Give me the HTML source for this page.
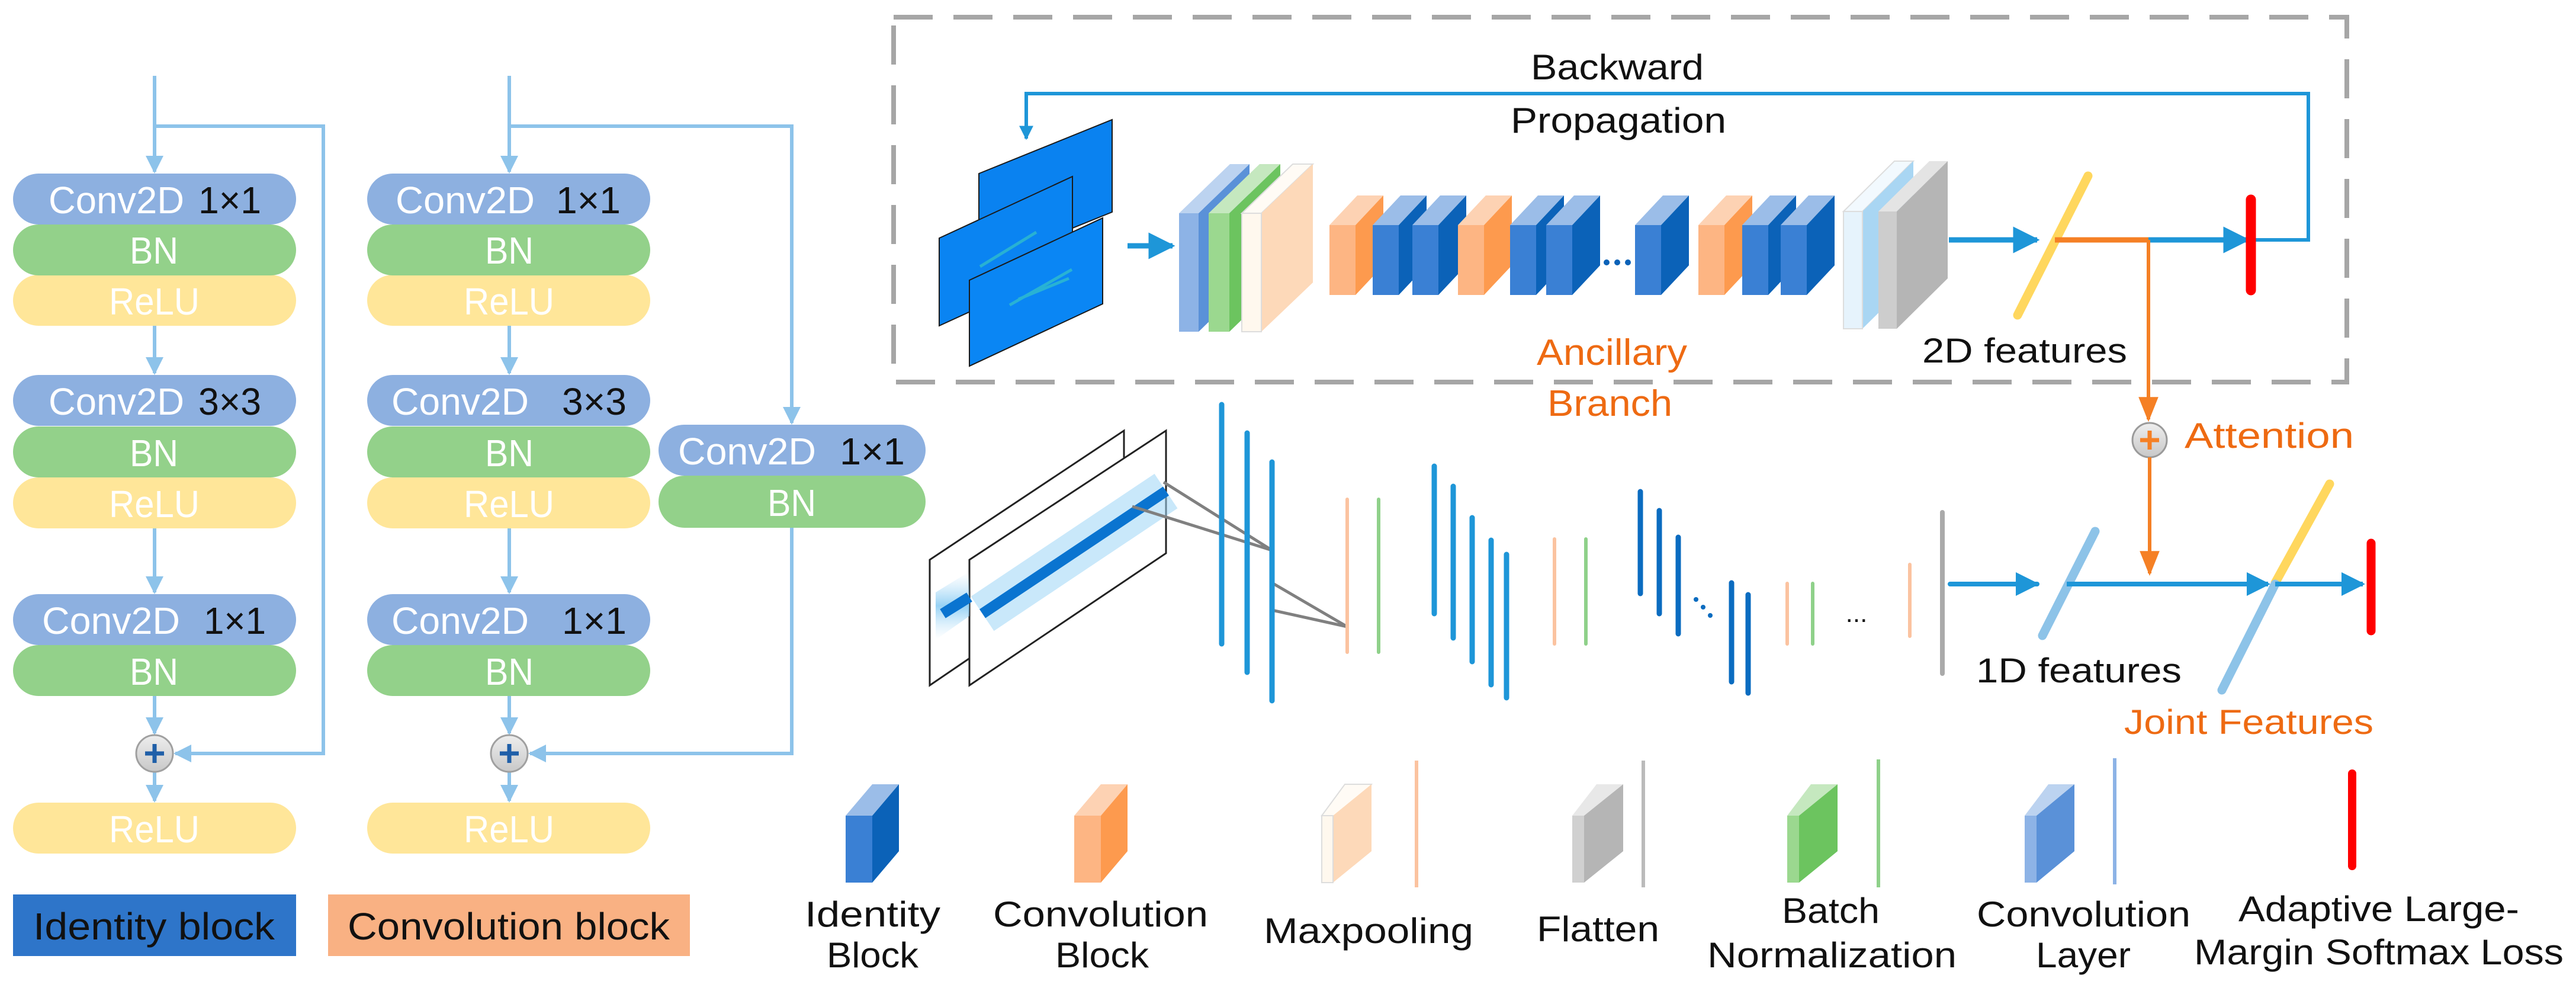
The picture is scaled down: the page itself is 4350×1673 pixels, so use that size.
<!DOCTYPE html>
<html><head><meta charset="utf-8"><style>
html,body{margin:0;padding:0;background:#fff}
svg{display:block}
text{font-family:"Liberation Sans",sans-serif}
</style></head><body>
<svg width="4350" height="1673" viewBox="0 0 4350 1673" xmlns="http://www.w3.org/2000/svg">
<defs>
<marker id="ab" viewBox="0 0 10 10" refX="9" refY="5" markerWidth="5" markerHeight="5" orient="auto"><path d="M0,0 L10,5 L0,10 z" fill="#8DC3EA"/></marker>
<marker id="bb" viewBox="0 0 10 10" refX="9" refY="5" markerWidth="5" markerHeight="5" orient="auto"><path d="M0,0 L10,5 L0,10 z" fill="#1E96D8"/></marker>
<marker id="bs" viewBox="0 0 10 10" refX="9" refY="5" markerWidth="4" markerHeight="5" orient="auto"><path d="M0,0 L10,5 L0,10 z" fill="#1E96D8"/></marker>
<marker id="ob" viewBox="0 0 10 10" refX="9" refY="5" markerWidth="7" markerHeight="7" orient="auto"><path d="M0,1 L10,5 L0,9 z" fill="#F58025"/></marker>
<linearGradient id="cg" x1="0" y1="0" x2="0" y2="1"><stop offset="0" stop-color="#EEEEEE"/><stop offset="1" stop-color="#C8C8C8"/></linearGradient>
<linearGradient id="fz" x1="0" y1="0" x2="0" y2="1"><stop offset="0" stop-color="#BFE4FA" stop-opacity="0"/><stop offset="0.5" stop-color="#7CC6F2"/><stop offset="1" stop-color="#BFE4FA" stop-opacity="0"/></linearGradient>
</defs>

<g stroke="#8DC3EA" stroke-width="6" fill="none">
<path d="M261,128 V290" marker-end="url(#ab)"/>
<path d="M261,213 H546 V1272 H296" marker-end="url(#ab)"/>
<path d="M261,550 V630" marker-end="url(#ab)"/>
<path d="M261,891 V1000" marker-end="url(#ab)"/>
<path d="M261,1174 V1238" marker-end="url(#ab)"/>
<path d="M261,1304 V1352" marker-end="url(#ab)"/>
<path d="M860,128 V290" marker-end="url(#ab)"/>
<path d="M860,213 H1337 V714" marker-end="url(#ab)"/>
<path d="M1337,889 V1272 H895" marker-end="url(#ab)"/>
<path d="M860,550 V630" marker-end="url(#ab)"/>
<path d="M860,891 V1000" marker-end="url(#ab)"/>
<path d="M860,1174 V1238" marker-end="url(#ab)"/>
<path d="M860,1304 V1352" marker-end="url(#ab)"/>
</g>

<g font-size="64" lengthAdjust="spacingAndGlyphs">
<rect x="22" y="464" width="478" height="86" rx="43" fill="#FFE699"/>
<rect x="22" y="379" width="478" height="86" rx="43" fill="#93D18A"/>
<rect x="22" y="293" width="478" height="86" rx="43" fill="#8DB0E0"/>
<text x="82" y="360" fill="#fff" textLength="229" lengthAdjust="spacingAndGlyphs">Conv2D</text><text x="335" y="360" fill="#111" textLength="106" lengthAdjust="spacingAndGlyphs">1×1</text>
<text x="219" y="445" fill="#fff" textLength="82" lengthAdjust="spacingAndGlyphs">BN</text>
<text x="184" y="531" fill="#fff" textLength="153" lengthAdjust="spacingAndGlyphs">ReLU</text>

<rect x="22" y="806" width="478" height="86" rx="43" fill="#FFE699"/>
<rect x="22" y="720" width="478" height="86" rx="43" fill="#93D18A"/>
<rect x="22" y="633" width="478" height="86" rx="43" fill="#8DB0E0"/>
<text x="82" y="700" fill="#fff" textLength="229" lengthAdjust="spacingAndGlyphs">Conv2D</text><text x="335" y="700" fill="#111" textLength="106" lengthAdjust="spacingAndGlyphs">3×3</text>
<text x="219" y="787" fill="#fff" textLength="82" lengthAdjust="spacingAndGlyphs">BN</text>
<text x="184" y="873" fill="#fff" textLength="153" lengthAdjust="spacingAndGlyphs">ReLU</text>

<rect x="22" y="1089" width="478" height="86" rx="43" fill="#93D18A"/>
<rect x="22" y="1003" width="478" height="86" rx="43" fill="#8DB0E0"/>
<text x="71" y="1070" fill="#fff" textLength="233" lengthAdjust="spacingAndGlyphs">Conv2D</text><text x="344" y="1070" fill="#111" textLength="105" lengthAdjust="spacingAndGlyphs">1×1</text>
<text x="219" y="1156" fill="#fff" textLength="82" lengthAdjust="spacingAndGlyphs">BN</text>

<rect x="22" y="1355" width="478" height="86" rx="43" fill="#FFE699"/>
<text x="184" y="1422" fill="#fff" textLength="153" lengthAdjust="spacingAndGlyphs">ReLU</text>

<rect x="620" y="464" width="478" height="86" rx="43" fill="#FFE699"/>
<rect x="620" y="379" width="478" height="86" rx="43" fill="#93D18A"/>
<rect x="620" y="293" width="478" height="86" rx="43" fill="#8DB0E0"/>
<text x="668" y="360" fill="#fff" textLength="235" lengthAdjust="spacingAndGlyphs">Conv2D</text><text x="939" y="360" fill="#111" textLength="109" lengthAdjust="spacingAndGlyphs">1×1</text>
<text x="819" y="445" fill="#fff" textLength="82" lengthAdjust="spacingAndGlyphs">BN</text>
<text x="783" y="531" fill="#fff" textLength="153" lengthAdjust="spacingAndGlyphs">ReLU</text>

<rect x="620" y="806" width="478" height="86" rx="43" fill="#FFE699"/>
<rect x="620" y="720" width="478" height="86" rx="43" fill="#93D18A"/>
<rect x="620" y="633" width="478" height="86" rx="43" fill="#8DB0E0"/>
<text x="661" y="700" fill="#fff" textLength="232" lengthAdjust="spacingAndGlyphs">Conv2D</text><text x="949" y="700" fill="#111" textLength="109" lengthAdjust="spacingAndGlyphs">3×3</text>
<text x="819" y="787" fill="#fff" textLength="82" lengthAdjust="spacingAndGlyphs">BN</text>
<text x="783" y="873" fill="#fff" textLength="153" lengthAdjust="spacingAndGlyphs">ReLU</text>

<rect x="620" y="1089" width="478" height="86" rx="43" fill="#93D18A"/>
<rect x="620" y="1003" width="478" height="86" rx="43" fill="#8DB0E0"/>
<text x="661" y="1070" fill="#fff" textLength="232" lengthAdjust="spacingAndGlyphs">Conv2D</text><text x="949" y="1070" fill="#111" textLength="109" lengthAdjust="spacingAndGlyphs">1×1</text>
<text x="819" y="1156" fill="#fff" textLength="82" lengthAdjust="spacingAndGlyphs">BN</text>

<rect x="620" y="1355" width="478" height="86" rx="43" fill="#FFE699"/>
<text x="783" y="1422" fill="#fff" textLength="153" lengthAdjust="spacingAndGlyphs">ReLU</text>

<rect x="1112" y="803" width="451" height="88" rx="44" fill="#93D18A"/>
<rect x="1112" y="717" width="451" height="86" rx="43" fill="#8DB0E0"/>
<text x="1145" y="784" fill="#fff" textLength="233" lengthAdjust="spacingAndGlyphs">Conv2D</text><text x="1418" y="784" fill="#111" textLength="110" lengthAdjust="spacingAndGlyphs">1×1</text>
<text x="1296" y="871" fill="#fff" textLength="82" lengthAdjust="spacingAndGlyphs">BN</text>
</g>

<g>
<circle cx="261" cy="1272" r="31" fill="url(#cg)" stroke="#A0A0A0" stroke-width="3"/>
<path d="M261,1256 V1288 M245,1272 H277" stroke="#1F5FA8" stroke-width="7"/>
<circle cx="860" cy="1272" r="31" fill="url(#cg)" stroke="#A0A0A0" stroke-width="3"/>
<path d="M860,1256 V1288 M844,1272 H876" stroke="#1F5FA8" stroke-width="7"/>
</g>

<rect x="22" y="1510" width="478" height="104" fill="#2E75C9"/>
<text x="56" y="1586" font-size="64" fill="#111" textLength="408" lengthAdjust="spacingAndGlyphs">Identity block</text>
<rect x="554" y="1510" width="611" height="104" fill="#F9B183"/>
<text x="587" y="1586" font-size="64" fill="#111" textLength="544" lengthAdjust="spacingAndGlyphs">Convolution block</text>

<rect x="1509" y="29" width="2454" height="616" fill="none" stroke="#A6A6A6" stroke-width="8" stroke-dasharray="66 35"/>

<text x="2585" y="134" font-size="60" fill="#111" textLength="292" lengthAdjust="spacingAndGlyphs">Backward</text>
<text x="2551" y="224" font-size="60" fill="#111" textLength="364" lengthAdjust="spacingAndGlyphs">Propagation</text>
<path d="M3800,405 H3898 V158 H1733 V234" fill="none" stroke="#1E96D8" stroke-width="6" marker-end="url(#bs)"/>

<g stroke="#1a1a1a" stroke-width="2">
<polygon points="1653,293 1878,202 1878,358 1653,449" fill="#0A82F0"/>
<polygon points="1586,402 1811,298 1811,447 1586,550" fill="#0A84F2"/>
<polygon points="1637,473 1862,368 1862,513 1637,618" fill="#0A86F4"/>
</g>
<g stroke="#3CD0C0" stroke-width="5" opacity="0.6">
<path d="M1655,450 L1750,392"/><path d="M1705,515 L1810,455"/><path d="M1720,505 L1805,470"/>
</g>
<path d="M1904,415 H1980" stroke="#1E96D8" stroke-width="9" marker-end="url(#bb)"/>

<g>
<polygon points="1991,360 2077,277 2110,277 2024,360" fill="#BCD3F0"/>
<polygon points="2024,360 2110,277 2110,477 2024,560" fill="#5A91D8"/>
<rect x="1991" y="360" width="33" height="200" fill="#8DB3E6"/>
<polygon points="2041,360 2127,277 2162,277 2076,360" fill="#C5E8BF"/>
<polygon points="2076,360 2162,277 2162,477 2076,560" fill="#6CC45F"/>
<rect x="2041" y="360" width="35" height="200" fill="#9BD88F"/>
<polygon points="2097,360 2183,277 2217,277 2130,360" fill="#FFFBF5" stroke="#DDD" stroke-width="2"/>
<polygon points="2130,360 2217,277 2217,477 2130,560" fill="#FDD9B9"/>
<rect x="2097" y="360" width="33" height="200" fill="#FFF8EE" stroke="#DDD" stroke-width="2"/>
</g>

<g>
<polygon points="2245,380 2292,330 2336,330 2289,380" fill="#FDD2B3"/><polygon points="2289,380 2336,330 2336,448 2289,498" fill="#FD9A4E"/><rect x="2245" y="380" width="44" height="118" fill="#FDB583"/>
<polygon points="2318,380 2365,330 2409,330 2362,380" fill="#9BBDE8"/><polygon points="2362,380 2409,330 2409,448 2362,498" fill="#0B62B8"/><rect x="2318" y="380" width="44" height="118" fill="#3A80D4"/>
<polygon points="2385,380 2432,330 2476,330 2429,380" fill="#9BBDE8"/><polygon points="2429,380 2476,330 2476,448 2429,498" fill="#0B62B8"/><rect x="2385" y="380" width="44" height="118" fill="#3A80D4"/>
<polygon points="2462,380 2509,330 2553,330 2506,380" fill="#FDD2B3"/><polygon points="2506,380 2553,330 2553,448 2506,498" fill="#FD9A4E"/><rect x="2462" y="380" width="44" height="118" fill="#FDB583"/>
<polygon points="2550,380 2597,330 2641,330 2594,380" fill="#9BBDE8"/><polygon points="2594,380 2641,330 2641,448 2594,498" fill="#0B62B8"/><rect x="2550" y="380" width="44" height="118" fill="#3A80D4"/>
<polygon points="2611,380 2658,330 2702,330 2655,380" fill="#9BBDE8"/><polygon points="2655,380 2702,330 2702,448 2655,498" fill="#0B62B8"/><rect x="2611" y="380" width="44" height="118" fill="#3A80D4"/>
<polygon points="2761,380 2808,330 2852,330 2805,380" fill="#9BBDE8"/><polygon points="2805,380 2852,330 2852,448 2805,498" fill="#0B62B8"/><rect x="2761" y="380" width="44" height="118" fill="#3A80D4"/>
<polygon points="2868,380 2915,330 2959,330 2912,380" fill="#FDD2B3"/><polygon points="2912,380 2959,330 2959,448 2912,498" fill="#FD9A4E"/><rect x="2868" y="380" width="44" height="118" fill="#FDB583"/>
<polygon points="2942,380 2989,330 3033,330 2986,380" fill="#9BBDE8"/><polygon points="2986,380 3033,330 3033,448 2986,498" fill="#0B62B8"/><rect x="2942" y="380" width="44" height="118" fill="#3A80D4"/>
<polygon points="3007,380 3054,330 3098,330 3051,380" fill="#9BBDE8"/><polygon points="3051,380 3098,330 3098,448 3051,498" fill="#0B62B8"/><rect x="3007" y="380" width="44" height="118" fill="#3A80D4"/>
</g>
<g fill="#0B62B8"><circle cx="2713" cy="443" r="5"/><circle cx="2731" cy="443" r="5"/><circle cx="2749" cy="443" r="5"/></g>

<polygon points="3113,357 3199,272 3231,272 3145,357" fill="#F2F9FE" stroke="#DDD" stroke-width="2"/>
<polygon points="3145,357 3231,272 3231,470 3145,555" fill="#A9D6F3"/>
<rect x="3113" y="357" width="32" height="198" fill="#E6F3FC" stroke="#DDD" stroke-width="2"/>
<polygon points="3172,357 3258,272 3289,272 3203,357" fill="#E4E4E4"/>
<polygon points="3203,357 3289,272 3289,470 3203,555" fill="#B5B5B5"/>
<rect x="3172" y="357" width="31" height="198" fill="#CDCDCD"/>

<path d="M3291,405 H3440" stroke="#1E96D8" stroke-width="9" marker-end="url(#bb)"/>
<path d="M3526,297 L3407,532" stroke="#FFD75E" stroke-width="15" stroke-linecap="round"/>
<path d="M3470,405 H3628" stroke="#F58025" stroke-width="9"/>
<path d="M3628,405 H3795" stroke="#1E96D8" stroke-width="9" marker-end="url(#bb)"/>
<line x1="3801" y1="337" x2="3801" y2="490" stroke="#FF0000" stroke-width="17" stroke-linecap="round"/>

<text x="3246" y="612" font-size="58" fill="#111" textLength="346" lengthAdjust="spacingAndGlyphs">2D features</text>
<text x="2595" y="616" font-size="62" fill="#EE6A12" textLength="254" lengthAdjust="spacingAndGlyphs">Ancillary</text>
<text x="2613" y="702" font-size="62" fill="#EE6A12" textLength="211" lengthAdjust="spacingAndGlyphs">Branch</text>

<path d="M3628,405 V708" stroke="#F58025" stroke-width="6" marker-end="url(#ob)"/>
<circle cx="3630" cy="743" r="29" fill="url(#cg)" stroke="#9A9A9A" stroke-width="3"/>
<path d="M3630,727 V759 M3614,743 H3646" stroke="#F58025" stroke-width="7"/>
<path d="M3630,772 V968" stroke="#F58025" stroke-width="6" marker-end="url(#ob)"/>
<text x="3689" y="756" font-size="60" fill="#EE6A12" textLength="286" lengthAdjust="spacingAndGlyphs">Attention</text>

<polygon points="1570,945 1898,727 1898,934 1570,1157" fill="#fff" stroke="#222" stroke-width="3"/>
<polygon points="1637,945 1969,727 1969,934 1637,1157" fill="#fff" stroke="#222" stroke-width="3"/>
<polygon points="1580,1000 1637,965 1637,1040 1580,1080" fill="url(#fz)" opacity="0.8"/>
<path d="M1659,1036 L1969,829" stroke="#9ED6F6" stroke-width="70" opacity="0.55"/>
<path d="M1592,1036 L1637,1008" stroke="#0A74D0" stroke-width="18"/>
<path d="M1659,1036 L1969,829" stroke="#0A74D0" stroke-width="18"/>

<g stroke="#808080" stroke-width="5">
<path d="M1965,814 L2148,929 M1912,855 L2148,929"/>
<path d="M2148,984 L2275,1058 M2148,1030 L2275,1058"/>
</g>

<g stroke-linecap="round" stroke-width="9">
<g stroke="#1E96D8">
<line x1="2063" y1="683" x2="2063" y2="1087"/>
<line x1="2106" y1="731" x2="2106" y2="1135"/>
<line x1="2148" y1="780" x2="2148" y2="1183"/>
<line x1="2422" y1="787" x2="2422" y2="1036"/>
<line x1="2454" y1="821" x2="2454" y2="1077"/>
<line x1="2486" y1="874" x2="2486" y2="1117"/>
<line x1="2518" y1="912" x2="2518" y2="1156"/>
<line x1="2544" y1="936" x2="2544" y2="1178"/>
</g>
<g stroke="#0B6CC0">
<line x1="2770" y1="830" x2="2770" y2="1002"/>
<line x1="2802" y1="862" x2="2802" y2="1036"/>
<line x1="2834" y1="907" x2="2834" y2="1070"/>
<line x1="2924" y1="984" x2="2924" y2="1151"/>
<line x1="2952" y1="1004" x2="2952" y2="1170"/>
</g>
<g fill="#0B6CC0" stroke="none"><circle cx="2864" cy="1012" r="4"/><circle cx="2876" cy="1025" r="4"/><circle cx="2888" cy="1039" r="4"/></g>
<g stroke="#FBC3A0" stroke-width="6">
<line x1="2275" y1="843" x2="2275" y2="1101"/>
<line x1="2625" y1="910" x2="2625" y2="1087"/>
<line x1="3018" y1="985" x2="3018" y2="1087"/>
<line x1="3225" y1="953" x2="3225" y2="1074"/>
</g>
<g stroke="#8FD18A" stroke-width="6">
<line x1="2328" y1="843" x2="2328" y2="1101"/>
<line x1="2678" y1="910" x2="2678" y2="1087"/>
<line x1="3061" y1="985" x2="3061" y2="1087"/>
</g>
<line x1="3280" y1="865" x2="3280" y2="1137" stroke="#AAAAAA" stroke-width="8"/>
</g>
<text x="3135" y="1050" font-size="44" fill="#111" text-anchor="middle">...</text>

<path d="M3293,986 H3440" stroke="#1E96D8" stroke-width="8" stroke-linecap="round" marker-end="url(#bb)"/>
<path d="M3538,897 L3449,1073" stroke="#8DC3E8" stroke-width="15" stroke-linecap="round"/>
<path d="M3490,986 H3830" stroke="#1E96D8" stroke-width="8" marker-end="url(#bb)"/>
<path d="M3934,817 L3842,984" stroke="#FFD75E" stroke-width="15" stroke-linecap="round"/>
<path d="M3842,986 L3752,1165" stroke="#8DC3E8" stroke-width="15" stroke-linecap="round"/>
<path d="M3842,986 H3990" stroke="#1E96D8" stroke-width="8" marker-end="url(#bb)"/>
<line x1="4004" y1="917" x2="4004" y2="1065" stroke="#FF0000" stroke-width="15" stroke-linecap="round"/>
<text x="3337" y="1152" font-size="58" fill="#111" textLength="347" lengthAdjust="spacingAndGlyphs">1D features</text>
<text x="3587" y="1239" font-size="58" fill="#EE6A12" textLength="421" lengthAdjust="spacingAndGlyphs">Joint Features</text>

<g>
<polygon points="1428,1377 1473,1324 1518,1324 1473,1377" fill="#9BBDE8"/><polygon points="1473,1377 1518,1324 1518,1437 1473,1490" fill="#0B62B8"/><rect x="1428" y="1377" width="45" height="113" fill="#3A80D4"/>
<polygon points="1814,1377 1859,1324 1904,1324 1859,1377" fill="#FDD2B3"/><polygon points="1859,1377 1904,1324 1904,1437 1859,1490" fill="#FD9A4E"/><rect x="1814" y="1377" width="45" height="113" fill="#FDB583"/>
<polygon points="2232,1377 2271,1324 2316,1324 2277,1377" fill="#FFFBF5" stroke="#DDD" stroke-width="2"/><polygon points="2251,1377 2316,1324 2316,1437 2251,1490" fill="#FDD9B9"/><rect x="2232" y="1377" width="19" height="113" fill="#FFF8EE" stroke="#DDD" stroke-width="2"/>
<line x1="2392" y1="1284" x2="2392" y2="1498" stroke="#FBC3A0" stroke-width="6"/>
<polygon points="2655,1377 2696,1324 2741,1324 2675,1377" fill="#E8E8E8"/><polygon points="2675,1377 2741,1324 2741,1437 2675,1490" fill="#B5B5B5"/><rect x="2655" y="1377" width="20" height="113" fill="#D0D0D0"/>
<line x1="2775" y1="1284" x2="2775" y2="1498" stroke="#BBBBBB" stroke-width="6"/>
<polygon points="3018,1377 3058,1324 3103,1324 3038,1377" fill="#C5E8BF"/><polygon points="3038,1377 3103,1324 3103,1437 3038,1490" fill="#6CC45F"/><rect x="3018" y="1377" width="20" height="113" fill="#9BD88F"/>
<line x1="3172" y1="1282" x2="3172" y2="1498" stroke="#8FD18A" stroke-width="6"/>
<polygon points="3419,1377 3459,1324 3503,1324 3439,1377" fill="#BCD3F0"/><polygon points="3439,1377 3503,1324 3503,1437 3439,1490" fill="#5A91D8"/><rect x="3419" y="1377" width="20" height="113" fill="#8DB3E6"/>
<line x1="3571" y1="1280" x2="3571" y2="1493" stroke="#8DB3E6" stroke-width="6"/>
<line x1="3972" y1="1306" x2="3972" y2="1462" stroke="#FF0000" stroke-width="14" stroke-linecap="round"/>
</g>
<g font-size="60" fill="#111">
<text x="1359" y="1564" textLength="229" lengthAdjust="spacingAndGlyphs">Identity</text><text x="1396" y="1633" textLength="155" lengthAdjust="spacingAndGlyphs">Block</text>
<text x="1677" y="1564" textLength="363" lengthAdjust="spacingAndGlyphs">Convolution</text><text x="1782" y="1633" textLength="158" lengthAdjust="spacingAndGlyphs">Block</text>
<text x="2134" y="1592" textLength="354" lengthAdjust="spacingAndGlyphs">Maxpooling</text>
<text x="2595" y="1589" textLength="207" lengthAdjust="spacingAndGlyphs">Flatten</text>
<text x="3009" y="1558" textLength="165" lengthAdjust="spacingAndGlyphs">Batch</text><text x="2883" y="1633" textLength="421" lengthAdjust="spacingAndGlyphs">Normalization</text>
<text x="3338" y="1564" textLength="361" lengthAdjust="spacingAndGlyphs">Convolution</text><text x="3438" y="1633" textLength="160" lengthAdjust="spacingAndGlyphs">Layer</text>
<text x="3780" y="1555" textLength="474" lengthAdjust="spacingAndGlyphs">Adaptive Large-</text><text x="3705" y="1628" textLength="624" lengthAdjust="spacingAndGlyphs">Margin Softmax Loss</text>
</g>
</svg>
</body></html>
